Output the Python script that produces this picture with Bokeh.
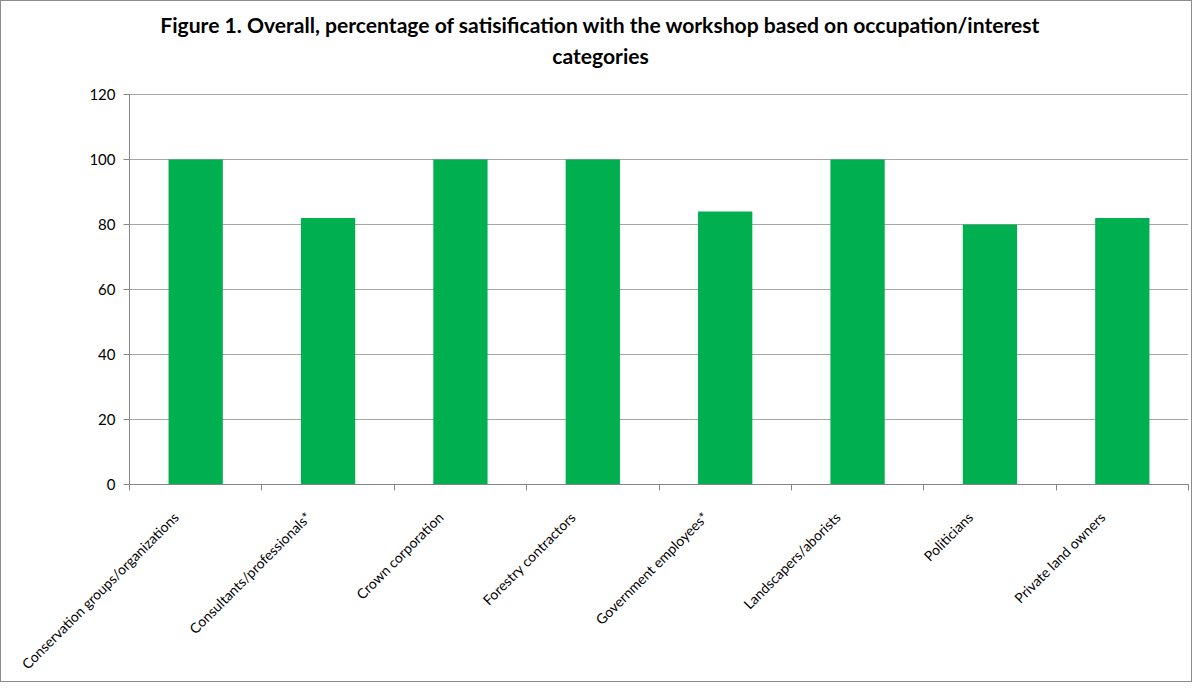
from math import pi
from bokeh.plotting import figure
from bokeh.models import Label, FixedTicker, Range1d, ColumnDataSource
from bokeh.embed import file_html
from bokeh.resources import INLINE

categories = ["Conservation groups/organizations", "Consultants/professionals*",
              "Crown corporation", "Forestry contractors", "Government employees*",
              "Landscapers/aborists", "Politicians", "Private land owners"]
values = [100, 82, 100, 100, 84, 100, 80, 82]
y_ticks = [0, 20, 40, 60, 80, 100, 120]
title_lines = ["Figure 1. Overall, percentage of satisification with the workshop based on occupation/interest",
               "categories"]

n = len(categories)
centers = [i + 0.5 for i in range(n)]
bounds = list(range(n + 1))
label_pos = [c - 0.15 for c in centers]   # rotated labels end slightly left of the bar centre
src = ColumnDataSource(dict(x=centers, top=values))

FONT = "Lato"
W, H = 1192, 682
BL, BR, BT, BB = 128, 5, 0, 199
PLOT_TOP = 93                       # pixel row of the 120 line
frame_h = H - BT - BB
y_max = y_ticks[-1] * frame_h / (H - BB - PLOT_TOP)

p = figure(width=W, height=H, output_backend="svg", toolbar_location=None,
           x_range=Range1d(0, n), y_range=Range1d(0, y_max),
           min_border_left=BL, min_border_right=BR, min_border_top=BT, min_border_bottom=BB,
           title=None)
p.styles = {"border": "1px solid #8c8c8c"}
p.outline_line_color = None

p.vbar(x="x", top="top", width=0.41, source=src, color="#00B050", line_color=None)

# two-line title (screen units measured from the frame's bottom-left corner)
for txt, sy in zip(title_lines, [23, 54]):
    p.add_layout(Label(x=599 - BL, y=frame_h - sy, x_units="screen", y_units="screen", text=txt,
                       text_align="center", text_baseline="alphabetic",
                       text_font=FONT, text_font_size="21.1px", text_font_style="bold",
                       text_color="#000000"))

xa = p.xaxis[0]
xa.ticker = FixedTicker(ticks=label_pos, minor_ticks=bounds)
xa.major_label_overrides = {c: name for c, name in zip(label_pos, categories)}
xa.major_tick_line_color = None
xa.minor_tick_line_color = "#868686"
xa.minor_tick_out = 6
xa.minor_tick_in = 0
xa.axis_line_color = "#868686"
xa.major_label_orientation = pi / 4
xa.major_label_text_font = FONT
xa.major_label_text_font_size = "14px"
xa.major_label_text_color = "#000000"
xa.major_label_standoff = 24

ya = p.yaxis[0]
ya.ticker = FixedTicker(ticks=y_ticks)
ya.bounds = (y_ticks[0], y_ticks[-1])
ya.minor_tick_line_color = None
ya.major_tick_line_color = "#868686"
ya.major_tick_out = 6
ya.major_tick_in = 0
ya.axis_line_color = "#868686"
ya.major_label_text_font = FONT
ya.major_label_text_font_size = "15px"
ya.major_label_text_color = "#000000"
ya.major_label_standoff = 8

p.xgrid.visible = False
p.ygrid.ticker = FixedTicker(ticks=y_ticks)
p.ygrid.grid_line_color = "#A6A6A6"

open("out.html", "w").write(file_html(p, INLINE))
